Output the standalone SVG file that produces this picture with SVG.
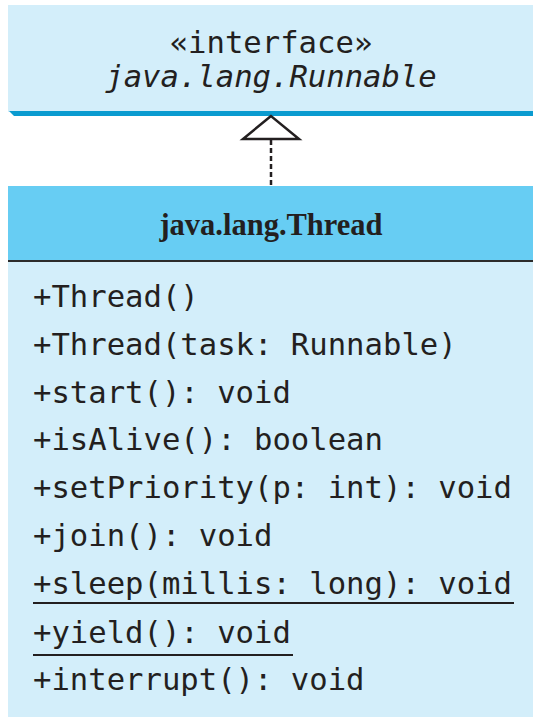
<svg xmlns="http://www.w3.org/2000/svg" width="533" height="717" viewBox="0 0 533 717">
<style>
.mono{font-family:"DejaVu Sans Mono","Liberation Mono",monospace;font-size:30.6px;fill:#231f20}
.ul{stroke:#231f20;stroke-width:2}
</style>
<rect width="533" height="717" fill="#ffffff"/>
<g id="runnable">
<rect x="8" y="5" width="525" height="107" fill="#d3eefa"/>
<polygon points="9,111 533,111 533,116 14,116" fill="#0a9bd0"/>
<text class="mono" x="271" y="53" text-anchor="middle">«interface»</text>
<text class="mono" x="271" y="87" text-anchor="middle" font-style="italic">java.lang.Runnable</text>
</g>
<g id="thread">
<rect x="8" y="186" width="525" height="75" fill="#67cdf3"/>
<rect x="8" y="261" width="525" height="456" fill="#d3eefa"/>
<line x1="8" y1="261" x2="533" y2="261" stroke="#2b2b2b" stroke-width="2.2"/>
<text x="271" y="235" text-anchor="middle" font-family="'Liberation Serif',serif" font-weight="bold" font-size="30.5" fill="#231f20">java.lang.Thread</text>
<text class="mono" x="33" y="307">+Thread()</text>
<text class="mono" x="33" y="355">+Thread(task: Runnable)</text>
<text class="mono" x="33" y="403">+start(): void</text>
<text class="mono" x="33" y="450">+isAlive(): boolean</text>
<text class="mono" x="33" y="498">+setPriority(p: int): void</text>
<text class="mono" x="33" y="546">+join(): void</text>
<text class="mono" x="33" y="594">+sleep(millis: long): void</text>
<line class="ul" x1="33" y1="603" x2="514" y2="603"/>
<text class="mono" x="33" y="643">+yield(): void</text>
<line class="ul" x1="33" y1="655" x2="293" y2="655"/>
<text class="mono" x="33" y="690">+interrupt(): void</text>
</g>
<g id="connectors">
<line x1="271" y1="140" x2="271" y2="186" stroke="#231f20" stroke-width="2.5" stroke-dasharray="5,3"/>
<polygon points="271,116 243,139 299,139" fill="#ffffff" stroke="#231f20" stroke-width="2.5" stroke-linejoin="miter"/>
</g>
</svg>
